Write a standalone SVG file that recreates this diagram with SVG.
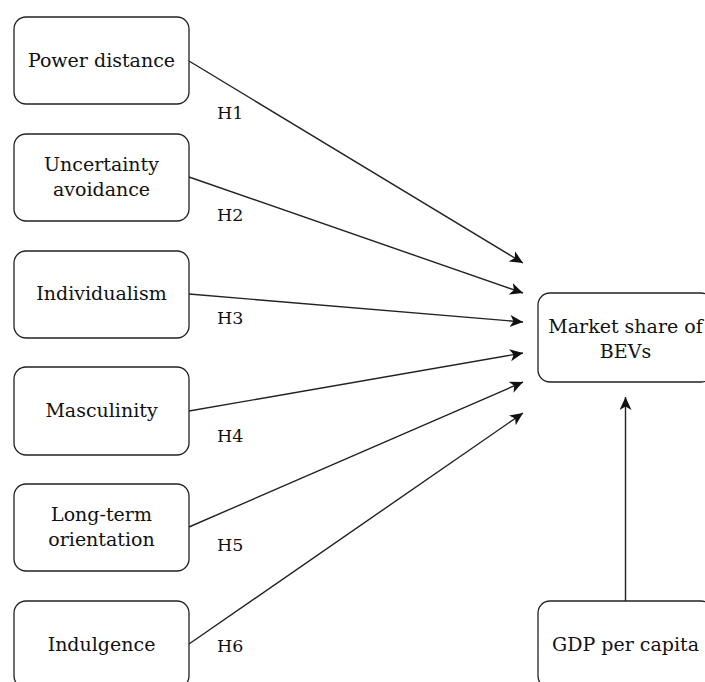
<svg xmlns="http://www.w3.org/2000/svg" width="705" height="682" viewBox="0 0 705 682">
<style>
.box{fill:#fff;stroke:#222;stroke-width:1.3}
.t{font-family:"DejaVu Serif","Liberation Serif",serif;font-size:19px;fill:#111;text-anchor:middle}
.h{font-family:"DejaVu Serif","Liberation Serif",serif;font-size:17.5px;fill:#111}
.c{fill:none;stroke:#222;stroke-width:1.4}
</style>
<defs>
<marker id="ah" markerUnits="userSpaceOnUse" markerWidth="15" markerHeight="13" refX="13" refY="6" orient="auto">
<path d="M0,0 L13,6 L0,12 L3.5,6 z" fill="#111"/>
</marker>
</defs>
<rect width="705" height="682" fill="#fff"/>
<g id="connectors">
<line class="c" x1="189" y1="61" x2="523" y2="263" marker-end="url(#ah)"/>
<line class="c" x1="189" y1="177" x2="523" y2="293" marker-end="url(#ah)"/>
<line class="c" x1="189" y1="294" x2="523" y2="322" marker-end="url(#ah)"/>
<line class="c" x1="189" y1="411" x2="523" y2="353" marker-end="url(#ah)"/>
<line class="c" x1="189" y1="527" x2="523" y2="382" marker-end="url(#ah)"/>
<line class="c" x1="189" y1="644" x2="523" y2="413" marker-end="url(#ah)"/>
<line class="c" x1="625.5" y1="601" x2="625.5" y2="397" marker-end="url(#ah)"/>
<text class="h" x="217" y="119">H1</text>
<text class="h" x="217" y="221">H2</text>
<text class="h" x="217" y="324">H3</text>
<text class="h" x="217" y="442">H4</text>
<text class="h" x="217" y="551">H5</text>
<text class="h" x="217" y="652">H6</text>
</g>
<g id="power-distance">
<rect class="box" x="14" y="17" width="175" height="87" rx="12"/>
<text class="t" x="101.5" y="67">Power distance</text>
</g>
<g id="uncertainty-avoidance">
<rect class="box" x="14" y="134" width="175" height="87" rx="12"/>
<text class="t" x="101.5" y="171">Uncertainty</text>
<text class="t" x="101.5" y="196">avoidance</text>
</g>
<g id="individualism">
<rect class="box" x="14" y="251" width="175" height="87" rx="12"/>
<text class="t" x="101.5" y="300">Individualism</text>
</g>
<g id="masculinity">
<rect class="box" x="14" y="367" width="175" height="88" rx="12"/>
<text class="t" x="101.5" y="417">Masculinity</text>
</g>
<g id="long-term-orientation">
<rect class="box" x="14" y="484" width="175" height="87" rx="12"/>
<text class="t" x="101.5" y="521">Long-term</text>
<text class="t" x="101.5" y="546">orientation</text>
</g>
<g id="indulgence">
<rect class="box" x="14" y="601" width="175" height="87" rx="12"/>
<text class="t" x="101.5" y="651">Indulgence</text>
</g>
<g id="market-share">
<rect class="box" x="538" y="293" width="175" height="89" rx="12"/>
<text class="t" x="625.5" y="333">Market share of</text>
<text class="t" x="625.5" y="358">BEVs</text>
</g>
<g id="gdp-per-capita">
<rect class="box" x="538" y="601" width="175" height="87" rx="12"/>
<text class="t" x="625.5" y="651">GDP per capita</text>
</g>
</svg>
